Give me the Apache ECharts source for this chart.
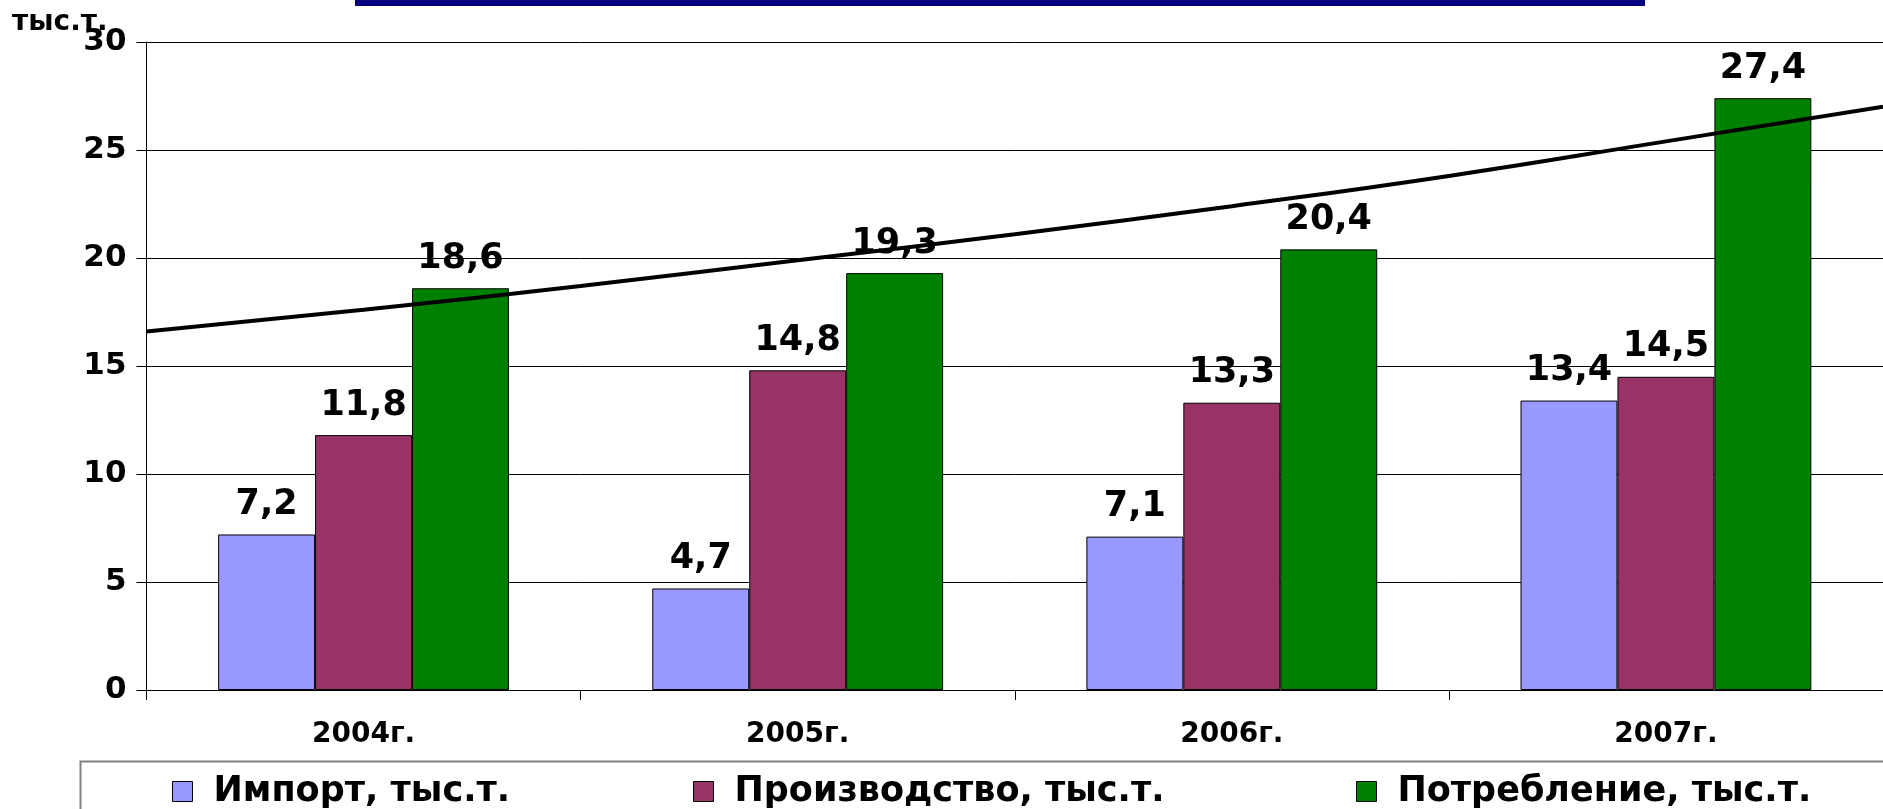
<!DOCTYPE html>
<html>
<head>
<meta charset="utf-8">
<script src="https://cdn.jsdelivr.net/npm/echarts@6/dist/echarts.min.js"></script>
<style>html,body{margin:0;padding:0;background:#fff}#c{width:1883px;height:809px}</style>
</head>
<body>
<div id="c"></div>
<script>
const categories = ['2004г.', '2005г.', '2006г.', '2007г.'];
const importVals = [7.2, 4.7, 7.1, 13.4];
const productionVals = [11.8, 14.8, 13.3, 14.5];
const consumptionVals = [18.6, 19.3, 20.4, 27.4];
const seriesNames = ['Импорт, тыс.т.', 'Производство, тыс.т.', 'Потребление, тыс.т.'];
const yTicks = [0, 5, 10, 15, 20, 25, 30];
const unitLabel = 'тыс.т.';
// trend line: position along category axis (index) and value
const trendX = [-0.5, 0, 0.5, 1, 1.5, 2, 2.5, 3, 3.5];
const trendY = [16.6, 17.6, 18.7, 19.9, 21.1, 22.4, 23.8, 25.4, 27.0];

const FONT = '"DejaVu Sans", sans-serif';
const colors = ['#9999FF', '#993366', '#008000'];

const chart = echarts.init(document.getElementById('c'), null, {renderer: 'canvas'});

function barSeries(name, data, color) {
  return {
    name: name, type: 'bar', data: data,
    xAxisIndex: 0, yAxisIndex: 0,
    barGap: '0%', barCategoryGap: '33%',
    itemStyle: {color: color, borderColor: '#000', borderWidth: 1},
    label: {
      show: true, position: 'top', distance: 12,
      fontFamily: FONT, fontWeight: 'bold', fontSize: 35, color: '#000',
      formatter: p => String(p.value).replace('.', ',')
    },
    z: 2
  };
}

function legendAt(left, name) {
  return {
    data: [name], left: left, top: 774, orient: 'horizontal', padding: 0,
    icon: 'rect', itemWidth: 20, itemHeight: 20,
    itemStyle: {borderColor: '#000', borderWidth: 1},
    textStyle: {fontFamily: FONT, fontWeight: 'bold', fontSize: 35, color: '#000', padding: [0, 0, 0, 16]}
  };
}

chart.setOption({
  animation: false,
  backgroundColor: '#fff',
  grid: {left: 146.5, right: 0, top: 42, bottom: 119, containLabel: false},
  xAxis: [{
    type: 'category', data: categories,
    axisLine: {show: true, onZero: false, lineStyle: {color: '#000', width: 1}},
    axisTick: {show: true, length: 10, lineStyle: {color: '#000'}},
    axisLabel: {fontFamily: FONT, fontWeight: 'bold', fontSize: 28, color: '#000', margin: 31},
    splitLine: {show: false}
  }, {
    type: 'value', min: -0.5, max: 3.5, show: false,
    axisLine: {show: false, onZero: false}, splitLine: {show: false}
  }],
  yAxis: [{
    type: 'value', min: yTicks[0], max: yTicks[yTicks.length - 1], interval: 5,
    axisLine: {show: true, onZero: false, lineStyle: {color: '#000', width: 1}},
    axisTick: {show: true, length: 10, lineStyle: {color: '#000'}},
    axisLabel: {fontFamily: FONT, fontWeight: 'bold', fontSize: 31, color: '#000', margin: 20},
    splitLine: {show: true, lineStyle: {color: '#000', width: 1}}
  }],
  legend: [legendAt(172, seriesNames[0]), legendAt(693, seriesNames[1]), legendAt(1356, seriesNames[2])],
  series: [
    barSeries(seriesNames[0], importVals, colors[0]),
    barSeries(seriesNames[1], productionVals, colors[1]),
    barSeries(seriesNames[2], consumptionVals, colors[2]),
    {
      name: 'trend', type: 'line', xAxisIndex: 1, yAxisIndex: 0,
      data: trendX.map((x, i) => [x, trendY[i]]),
      smooth: true, showSymbol: false, clip: false,
      lineStyle: {color: '#000', width: 4}, z: 5, silent: true
    }
  ],
  graphic: [
    {type: 'rect', left: 355, top: 0, shape: {width: 1290, height: 6}, style: {fill: '#000080'}},
    {type: 'rect', left: 78, top: 759, shape: {width: 1900, height: 100}, style: {fill: 'none', stroke: '#808080', lineWidth: 2}, z: -1},
    {type: 'text', left: 12, top: 9, style: {text: unitLabel, font: 'bold 28px "DejaVu Sans", sans-serif', fill: '#000'}}
  ]
});
</script>
</body>
</html>
